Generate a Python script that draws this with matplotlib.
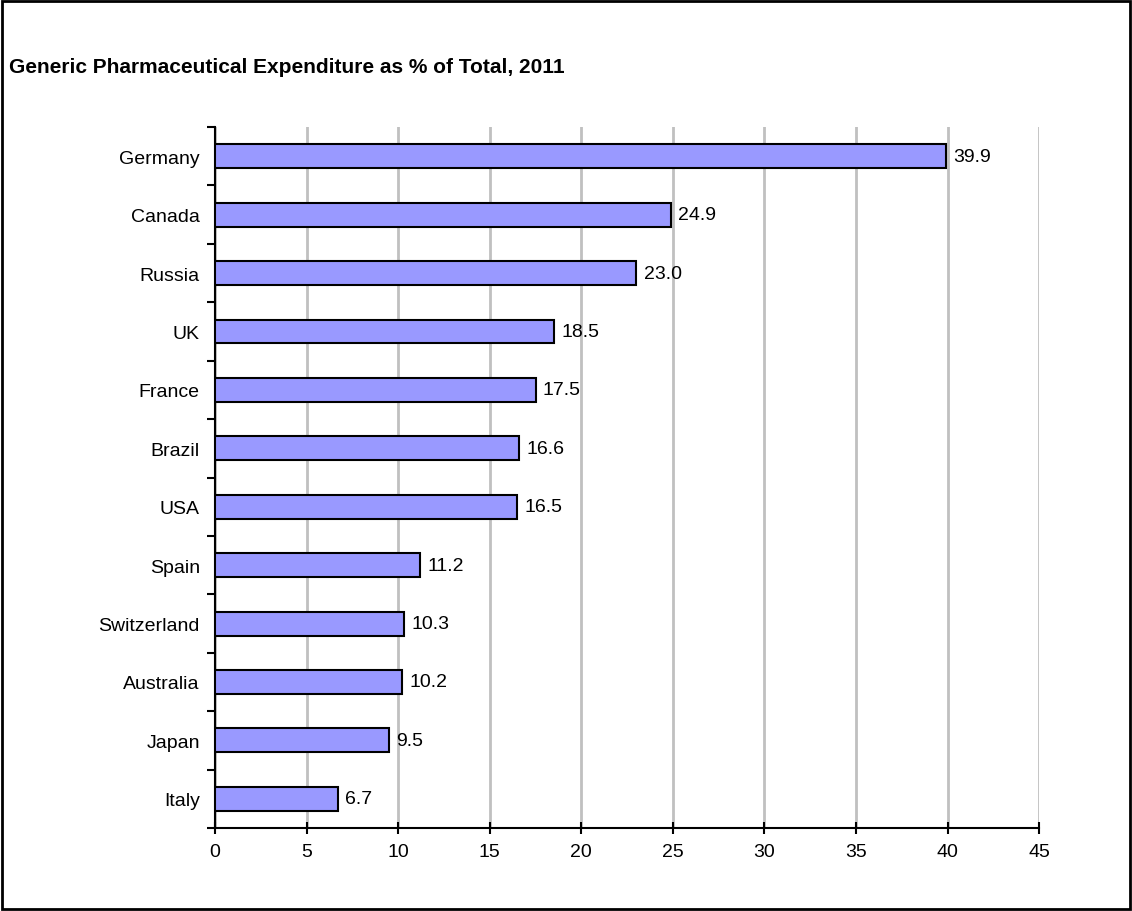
import matplotlib.pyplot as plt
from matplotlib.patches import Rectangle
from matplotlib.ticker import FixedLocator, NullFormatter

countries = ['Germany', 'Canada', 'Russia', 'UK', 'France', 'Brazil', 'USA',
             'Spain', 'Switzerland', 'Australia', 'Japan', 'Italy']
values = [39.9, 24.9, 23.0, 18.5, 17.5, 16.6, 16.5, 11.2, 10.3, 10.2, 9.5, 6.7]
xticks = [0, 5, 10, 15, 20, 25, 30, 35, 40, 45]

plt.rcParams['font.family'] = ['Liberation Sans', 'DejaVu Sans']
fs = 14

fig = plt.figure(figsize=(11.32, 9.12), dpi=100)
ax = fig.add_axes([0.19, 0.091, 0.728, 0.7686])

pos = list(range(len(countries)))
ax.barh(pos, values, height=0.41, color='#9999ff', edgecolor='black', linewidth=1.5, zorder=3)
for p, v in zip(pos, values):
    ax.text(v + 0.4, p, f'{v:.1f}', va='center', ha='left', fontsize=fs)

ax.set_xlim(0, 45)
ax.set_ylim(len(countries) - 0.5, -0.5)
ax.set_xticks(xticks)
ax.set_yticks(pos)
ax.set_yticklabels(countries)
# category boundary ticks on the y axis
ax.yaxis.set_minor_locator(FixedLocator([p + 0.5 for p in range(-1, len(countries))]))
ax.yaxis.set_minor_formatter(NullFormatter())
ax.tick_params(axis='y', which='major', length=0, pad=11, labelsize=fs)
ax.tick_params(axis='y', which='minor', length=6, width=1.5, direction='out')
ax.tick_params(axis='x', which='major', length=8, width=1.5, direction='inout', pad=7, labelsize=fs)

ax.xaxis.grid(True, color='#c0c0c0', linewidth=2, zorder=0)
ax.set_axisbelow(True)
for s in ['top', 'right']:
    ax.spines[s].set_visible(False)
for s in ['left', 'bottom']:
    ax.spines[s].set_linewidth(1.5)

fig.text(0.008, 0.926, 'Generic Pharmaceutical Expenditure as % of Total, 2011',
         fontsize=15, fontweight='bold', va='center', ha='left')
fig.patches.append(Rectangle((0.002, 0.002), 0.996, 0.996, transform=fig.transFigure,
                             fill=False, edgecolor='black', linewidth=2))

fig.savefig('out.png', dpi=100)
